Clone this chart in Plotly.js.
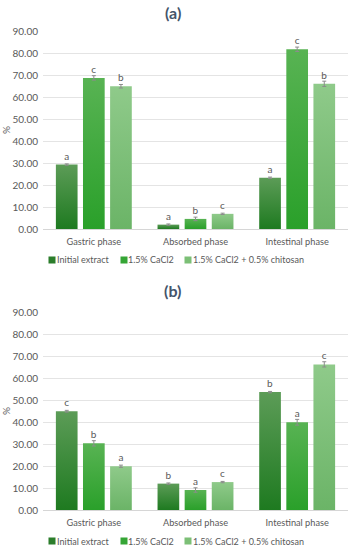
<!DOCTYPE html>
<html>
<head>
<meta charset="utf-8">
<script src="https://cdn.plot.ly/plotly-3.0.1.min.js"></script>
<style>html,body{margin:0;padding:0;background:#fff;}#chart{width:353px;height:550px;}</style>
</head>
<body>
<div id="chart"></div>
<script>
const categories = ['Gastric phase', 'Absorbed phase', 'Intestinal phase'];
const seriesNames = ['Initial extract', '1.5% CaCl2', '1.5% CaCl2 + 0.5% chitosan'];
const yTicks = [0, 10, 20, 30, 40, 50, 60, 70, 80, 90];

// Panel (a)
const aInitial = [29.3, 2.0, 23.3];
const aCaCl2 = [68.7, 4.6, 81.7];
const aChitosan = [64.9, 6.9, 66.0];
const aInitialErr = [0.3, 0.3, 0.3];
const aCaCl2Err = [1.0, 0.8, 1.0];
const aChitosanErr = [0.8, 0.3, 1.2];
const aInitialLetters = ['a', 'a', 'a'];
const aCaCl2Letters = ['c', 'b', 'c'];
const aChitosanLetters = ['b', 'c', 'b'];

// Panel (b)
const bInitial = [44.9, 12.0, 53.6];
const bCaCl2 = [30.3, 9.1, 39.9];
const bChitosan = [19.9, 12.7, 66.2];
const bInitialErr = [0.4, 0.3, 0.3];
const bCaCl2Err = [1.2, 1.0, 1.3];
const bChitosanErr = [0.5, 0.3, 1.2];
const bInitialLetters = ['c', 'b', 'b'];
const bCaCl2Letters = ['b', 'a', 'a'];
const bChitosanLetters = ['a', 'c', 'c'];

const legendColors = ['#2b7d2b', '#35a535', '#7cbf76'];
const gradTop = ['#5c9c57', '#58b353', '#8fca8a'];
const gradBot = ['#1e7a20', '#2aa02a', '#6bb467'];
const txtColor = '#595959';
const FONT = 'Lato, "Open Sans", sans-serif';

function mk(name, vals, errs, letters, idx, panel) {
  return {
    type: 'bar', name: name, x: categories, y: vals,
    xaxis: panel === 'a' ? 'x' : 'x2', yaxis: panel === 'a' ? 'y' : 'y2',
    marker: {color: legendColors[idx], line: {width: 0}},
    error_y: {type: 'data', array: errs, visible: true, color: '#8c8c8c', thickness: 1, width: 2},
    text: letters, textposition: 'outside', cliponaxis: false,
    textfont: {size: 10, color: txtColor, family: FONT},
    hoverinfo: 'skip', showlegend: false
  };
}

const data = [
  mk(seriesNames[0], aInitial, aInitialErr, aInitialLetters, 0, 'a'),
  mk(seriesNames[1], aCaCl2, aCaCl2Err, aCaCl2Letters, 1, 'a'),
  mk(seriesNames[2], aChitosan, aChitosanErr, aChitosanLetters, 2, 'a'),
  mk(seriesNames[0], bInitial, bInitialErr, bInitialLetters, 0, 'b'),
  mk(seriesNames[1], bCaCl2, bCaCl2Err, bCaCl2Letters, 1, 'b'),
  mk(seriesNames[2], bChitosan, bChitosanErr, bChitosanLetters, 2, 'b')
];

function yax(domain, anchor) {
  return {
    domain: domain, anchor: anchor, range: [0, 90], tickvals: yTicks, tickformat: '.2f',
    showgrid: true, gridcolor: '#e4e4e4', gridwidth: 1,
    zeroline: true, zerolinecolor: '#d6d6d6', zerolinewidth: 1,
    showline: false, ticks: '', ticklabelstandoff: 4, automargin: false,
    tickfont: {size: 10, color: txtColor, family: FONT},
    title: {text: '%', font: {size: 10, color: txtColor, family: FONT}, standoff: 8},
    fixedrange: true
  };
}
function xax(anchor) {
  return {
    anchor: anchor, domain: [0, 1], showgrid: false, showline: false, zeroline: false,
    ticks: '', automargin: false, ticklabelstandoff: 6,
    tickfont: {size: 9.2, color: txtColor, family: FONT}, fixedrange: true
  };
}

// Legend built from annotations: swatch + label per series, per panel
const plotLeft = 43, plotW = 305, H = 550;
const swatchCenters = [51.5, 123.5, 188];
const labelLefts = [56, 127, 192];
function legendAnn(rowY) {
  const out = [];
  for (let i = 0; i < seriesNames.length; i++) {
    out.push({text: '&nbsp;', xref: 'paper', yref: 'paper', x: (swatchCenters[i] - plotLeft) / plotW,
      y: 1 - rowY / H, xanchor: 'center', yanchor: 'middle', showarrow: false,
      width: 6, height: 6, bgcolor: legendColors[i], borderpad: 0, font: {size: 4}});
    out.push({text: seriesNames[i], xref: 'paper', yref: 'paper', x: (labelLefts[i] - plotLeft) / plotW,
      y: 1 - rowY / H, xanchor: 'left', yanchor: 'middle', showarrow: false, borderpad: 0,
      font: {size: 9, color: txtColor, family: FONT}});
  }
  return out;
}

const layout = {
  width: 353, height: 550,
  margin: {l: 43, r: 5, t: 0, b: 0},
  paper_bgcolor: '#ffffff', plot_bgcolor: '#ffffff',
  font: {family: FONT, color: txtColor},
  barmode: 'group', bargap: 0.2, bargroupgap: 0.2,
  showlegend: false,
  xaxis: xax('y'), yaxis: yax([0.5836, 0.9436], 'x'),
  xaxis2: xax('y2'), yaxis2: yax([0.0727, 0.4327], 'x2'),
  annotations: [
    {text: '<b>(a)</b>', xref: 'paper', yref: 'paper', x: 0.4246, y: 0.978, xanchor: 'center', yanchor: 'middle',
     showarrow: false, font: {size: 16, color: '#44546a', family: FONT}},
    {text: '<b>(b)</b>', xref: 'paper', yref: 'paper', x: 0.4246, y: 0.4727, xanchor: 'center', yanchor: 'middle',
     showarrow: false, font: {size: 16, color: '#44546a', family: FONT}}
  ].concat(legendAnn(260), legendAnn(541))
};

Plotly.newPlot('chart', data, layout, {staticPlot: true, displayModeBar: false}).then(function () {
  // Apply vertical gradient fills to the bars (Excel-style shading)
  const svg = document.querySelector('#chart .main-svg');
  const ns = 'http://www.w3.org/2000/svg';
  let defs = svg.querySelector('defs');
  if (!defs) { defs = document.createElementNS(ns, 'defs'); svg.insertBefore(defs, svg.firstChild); }
  for (let i = 0; i < 3; i++) {
    const g = document.createElementNS(ns, 'linearGradient');
    g.setAttribute('id', 'barGrad' + i);
    g.setAttribute('x1', '0'); g.setAttribute('y1', '0'); g.setAttribute('x2', '0'); g.setAttribute('y2', '1');
    const s1 = document.createElementNS(ns, 'stop'); s1.setAttribute('offset', '0'); s1.setAttribute('stop-color', gradTop[i]);
    const s2 = document.createElementNS(ns, 'stop'); s2.setAttribute('offset', '1'); s2.setAttribute('stop-color', gradBot[i]);
    g.appendChild(s1); g.appendChild(s2); defs.appendChild(g);
  }
  const traces = document.querySelectorAll('#chart .barlayer .trace');
  traces.forEach(function (t, k) {
    t.querySelectorAll('.point path').forEach(function (p) { p.style.fill = 'url(#barGrad' + (k % 3) + ')'; });
  });
});
</script>
</body>
</html>
